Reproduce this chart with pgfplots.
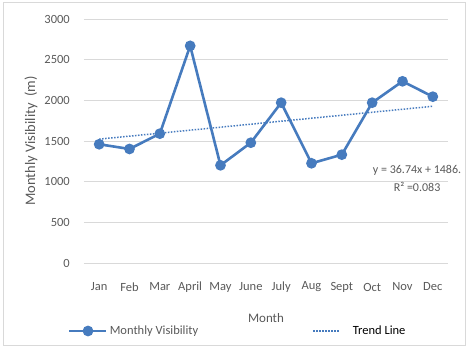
\documentclass[border=0pt]{standalone}
\usepackage{pgfplots}
\pgfplotsset{compat=1.18}
\usepackage{fontspec}
\setmainfont{Carlito}
\definecolor{serie}{RGB}{70,123,190}
\definecolor{txt}{RGB}{89,89,89}
\definecolor{grd}{RGB}{217,217,217}

\begin{document}
\begin{tikzpicture}
\begin{axis}[
    at={(0,0)}, anchor=south west,
    scale only axis, width=364pt, height=244pt,
    xmin=0.5, xmax=12.5, ymin=0, ymax=3000,
    clip=false,
    xtick={1,...,12},
    xticklabels={Jan,Feb,Mar,April,May,June,July,Aug,Sept,Oct,Nov,Dec},
    ytick={0,500,...,3000},
    major tick length=0pt,
    axis line style={draw=none},
    ymajorgrids, grid style={grd, line width=0.8pt},
    /pgf/number format/assume math mode=true,
    /pgf/number format/1000 sep={},
    tick label style={font=\fontsize{12.5}{14}\selectfont, text=txt},
    xticklabel style={anchor=center, yshift=-24pt},
    yticklabel style={anchor=east, inner sep=0pt, xshift=-14pt},
    xlabel={Month}, ylabel={Monthly Visibility\ \ (m)},
    label style={text=txt},
    xlabel style={font=\fontsize{13}{15}\selectfont,
        at={(axis description cs:0.5,-0.225)}, anchor=center},
    ylabel style={font=\fontsize{14.5}{16}\selectfont,
        at={(axis description cs:-0.1456,0.5)}, anchor=center},
    legend columns=2,
    legend style={draw=none, fill=none, inner sep=0pt,
        at={(axis description cs:0,0)}, anchor=west,
        xshift=-16pt, yshift=-68pt,
        font=\fontsize{12.5}{14}\selectfont, text=txt,
        /tikz/every even column/.append style={column sep=112pt}},
]
\addplot[serie, line width=2.6pt, mark=*, mark size=4pt,
    legend image code/.code={\draw[mark repeat=2,mark phase=2] plot coordinates {(0pt,0pt) (18.5pt,0pt) (37pt,0pt)};}]
  coordinates {
    (1,1460) (2,1402) (3,1590) (4,2670) (5,1201) (6,1479)
    (7,1971) (8,1226) (9,1332) (10,1971) (11,2234) (12,2045)
};
\addlegendentry{Monthly Visibility}
\addplot[serie, line width=1.5pt, dash pattern=on 1.5pt off 1.5pt, mark=none,
    legend image code/.code={\draw (0pt,0pt) -- (26pt,0pt); \path (37pt,0pt);}]
  coordinates {(1,1523) (12,1927)};
\addlegendentry{\textcolor{black}{Trend Line}}
\node[align=center, text=txt, font=\fontsize{12}{18}\selectfont]
  at (axis cs:11.48,1045) {y = 36.74x + 1486.\\R² =0.083};
\end{axis}
\draw[grd, line width=0.8pt] (-81pt,-82pt) rectangle (381pt,261pt);
\pgfresetboundingbox
\path[use as bounding box] (-84pt,-86pt) rectangle (385pt,263pt);
\end{tikzpicture}
\end{document}
